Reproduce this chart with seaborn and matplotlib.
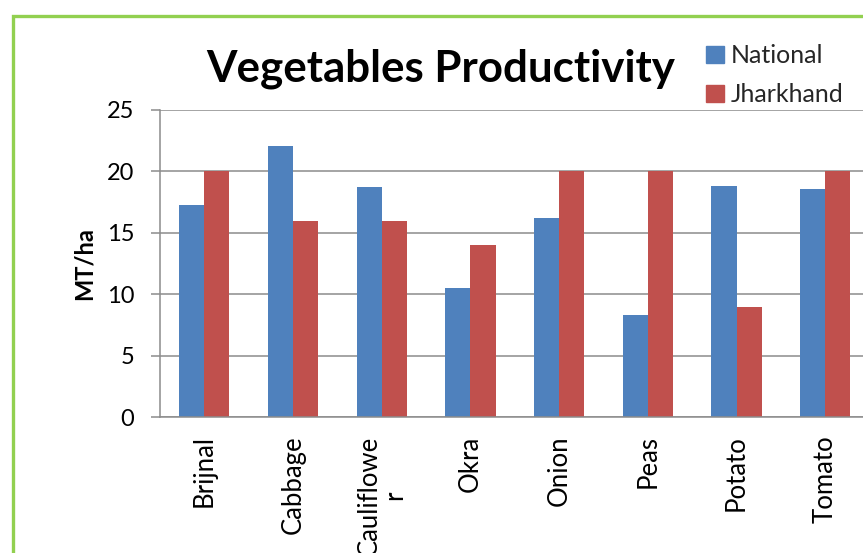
import matplotlib
matplotlib.use("Agg")
import matplotlib.pyplot as plt
import seaborn as sns
import pandas as pd
from matplotlib.patches import Rectangle

categories = ["Brijnal", "Cabbage", "Cauliflowe\nr", "Okra", "Onion", "Peas", "Potato", "Tomato"]
national = [17.3, 22.1, 18.7, 10.5, 16.2, 8.3, 18.8, 18.6]
jharkhand = [20, 16, 16, 14, 20, 20, 9, 20]
series_names = ["National", "Jharkhand"]
y_ticks = [0, 5, 10, 15, 20, 25]

df = pd.DataFrame({
    "Crop": categories * 2,
    "Value": national + jharkhand,
    "Series": [series_names[0]] * len(categories) + [series_names[1]] * len(categories),
})

sns.set_theme(style="white")
plt.rcParams["font.family"] = ["Lato", "DejaVu Sans"]

W, H = 863, 553
fig = plt.figure(figsize=(W / 100, H / 100), dpi=100)
fig.patch.set_facecolor("white")

left, right, top, bottom = 160, 869.6, 110, 417.3
ax = fig.add_axes([left / W, (H - bottom) / H, (right - left) / W, (bottom - top) / H])

sns.barplot(data=df, x="Crop", y="Value", hue="Series", order=categories,
            hue_order=series_names, palette=["#4F81BD", "#C0504D"],
            saturation=1, width=0.565, linewidth=0, ax=ax, legend=False)

gray = "#8C8C8C"
ax.set_ylim(0, 25)
ax.set_yticks(y_ticks)
ax.yaxis.grid(True, color=gray, linewidth=1.1)
ax.set_axisbelow(True)
for s in ["top", "right"]:
    ax.spines[s].set_visible(False)
for s in ["left", "bottom"]:
    ax.spines[s].set_color(gray)
    ax.spines[s].set_linewidth(1.1)

ax.tick_params(axis="y", which="major", direction="out", length=6.5, width=1.1,
               color=gray, pad=12, labelsize=17, labelcolor="black", left=True)
ax.tick_params(axis="x", length=0, pad=13, labelsize=18.5, labelcolor="black")
for lbl in ax.get_xticklabels():
    lbl.set_rotation(90)
    lbl.set_va("top")
    lbl.set_ha("center")
    lbl.set_linespacing(1.0)

ax.set_xlabel("")
ax.set_ylabel("MT/ha", fontsize=17, fontweight="bold", color="black")
ax.yaxis.set_label_coords((96 - left) / (right - left), 0.5)

fig.text(441 / W, 1 - 69 / H, "Vegetables Productivity", fontsize=31.6, fontweight="bold",
         ha="center", va="center", color="black")

handles = [Rectangle((0, 0), 1, 1, color="#4F81BD"), Rectangle((0, 0), 1, 1, color="#C0504D")]
fig.legend(handles, series_names, loc="upper left", bbox_to_anchor=(706 / W, 1 - 44 / H),
           frameon=False, fontsize=18, handlelength=0.7, handleheight=0.7,
           handletextpad=0.3, labelspacing=0.65, borderaxespad=0, borderpad=0)

frame = Rectangle((13 / W, -0.2), 1.2, 1 - 16 / H + 0.2, transform=fig.transFigure,
                  fill=False, edgecolor="#92D050", linewidth=2.4, clip_on=False)
fig.patches.append(frame)

fig.savefig("out.png", dpi=100, facecolor="white")
